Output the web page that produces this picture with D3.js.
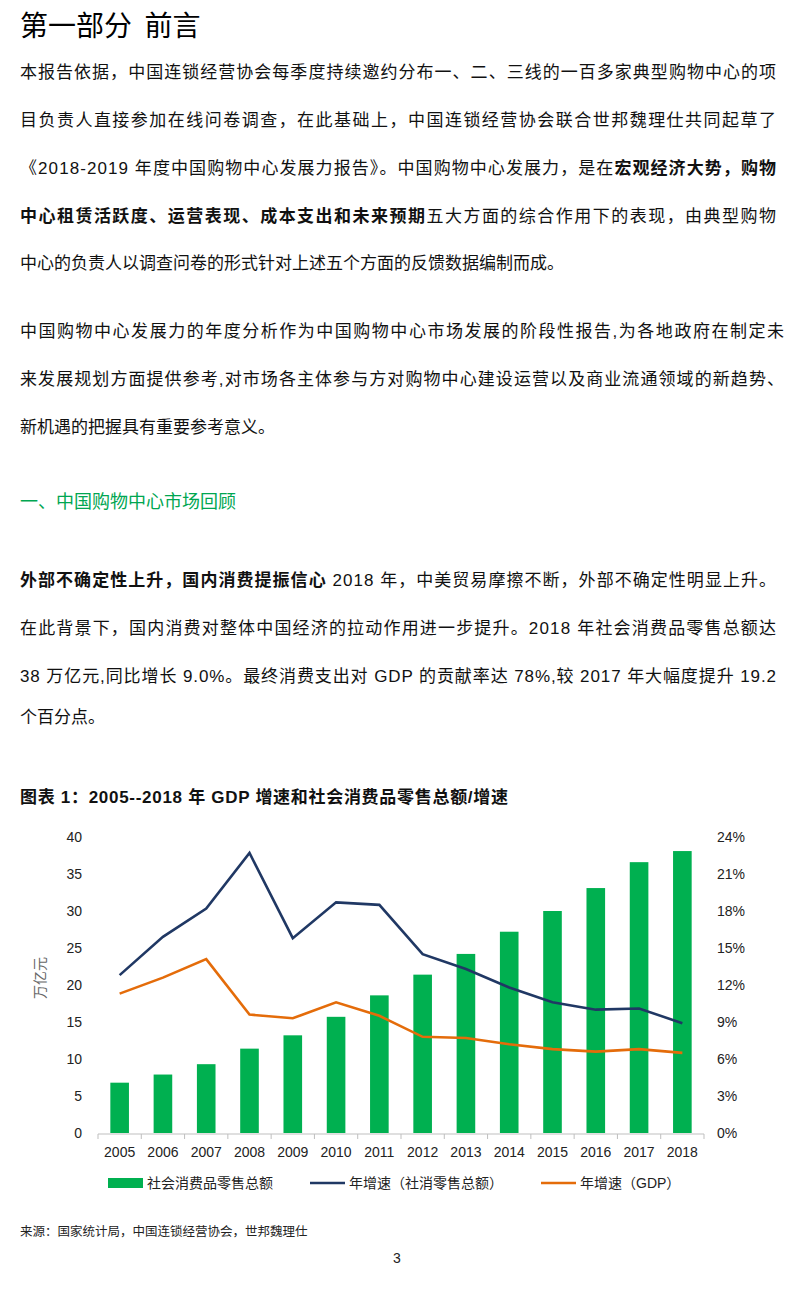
<!DOCTYPE html>
<html><head><meta charset="utf-8">
<script src="https://cdn.jsdelivr.net/npm/d3@7"></script>
<style>
body{margin:0;background:#fff;}
svg{display:block;}
</style></head>
<body>
<svg id="page" width="800" height="1291"></svg>
<script>
// ---- chart data ----
const years = ["2005","2006","2007","2008","2009","2010","2011","2012","2013","2014","2015","2016","2017","2018"];
const retailSales = [6.8,7.9,9.3,11.4,13.2,15.7,18.6,21.4,24.2,27.2,30.0,33.1,36.6,38.1];           // 万亿元
const retailGrowth = [12.8,15.9,18.2,22.7,15.8,18.7,18.5,14.5,13.3,11.8,10.6,10.0,10.1,8.9];       // %
const gdpGrowth = [11.3,12.6,14.1,9.6,9.3,10.6,9.5,7.8,7.7,7.2,6.8,6.6,6.8,6.5];                   // %
const leftTicks = [0,5,10,15,20,25,30,35,40];
const rightTicks = [0,3,6,9,12,15,18,21,24];
const seriesNames = ["社会消费品零售总额","年增速（社消零售总额）","年增速（GDP）"];

// ---- page text ----
const pageTitle = "第一部分  前言";
const para1 = [
  [["本报告依据，中国连锁经营协会每季度持续邀约分布一、二、三线的一百多家典型购物中心的项",0]],
  [["目负责人直接参加在线问卷调查，在此基础上，中国连锁经营协会联合世邦魏理仕共同起草了",0]],
  [["《2018-2019 年度中国购物中心发展力报告》。中国购物中心发展力，是在",0],["宏观经济大势，购物",1]],
  [["中心租赁活跃度、运营表现、成本支出和未来预期",1],["五大方面的综合作用下的表现，由典型购物",0]],
  [["中心的负责人以调查问卷的形式针对上述五个方面的反馈数据编制而成。",0]]
];
const para2 = [
  [["中国购物中心发展力的年度分析作为中国购物中心市场发展的阶段性报告,为各地政府在制定未",0]],
  [["来发展规划方面提供参考,对市场各主体参与方对购物中心建设运营以及商业流通领域的新趋势、",0]],
  [["新机遇的把握具有重要参考意义。",0]]
];
const heading = "一、中国购物中心市场回顾";
const para3 = [
  [["外部不确定性上升，国内消费提振信心",1],[" 2018 年，中美贸易摩擦不断，外部不确定性明显上升。",0]],
  [["在此背景下，国内消费对整体中国经济的拉动作用进一步提升。2018 年社会消费品零售总额达",0]],
  [["38 万亿元,同比增长 9.0%。最终消费支出对 GDP 的贡献率达 78%,较 2017 年大幅度提升 19.2",0]],
  [["个百分点。",0]]
];
const chartTitle = "图表 1：2005--2018 年 GDP 增速和社会消费品零售总额/增速";
const sourceText = "来源：国家统计局，中国连锁经营协会，世邦魏理仕";

const svg = d3.select("#page");
const CJK = "'Noto Sans CJK SC','Noto Sans',sans-serif";
const LAT = "'Liberation Sans',Arial,'Noto Sans CJK SC',sans-serif";

svg.append("text").attr("x",20).attr("y",36).attr("font-family",CJK)
  .attr("font-size",28).attr("fill","#000").attr("xml:space","preserve").text(pageTitle);

function fitLine(t, n, width){
  const w = t.node().getComputedTextLength();
  t.attr("letter-spacing", (width - w)/(n-1));
}
function drawPara(lines, ys, opts){
  lines.forEach((segs,i)=>{
    const t = svg.append("text").attr("x",20).attr("y",ys[i])
      .attr("font-family",LAT).attr("font-size",17).attr("fill","#111")
      .attr("xml:space","preserve");
    segs.forEach(s=>{
      t.append("tspan").attr("font-weight",s[1]?"bold":"normal").text(s[0]);
    });
    if(i < lines.length-1){
      fitLine(t, segs.map(s=>s[0]).join("").length, opts.width);
    }
  });
}
drawPara(para1,[78,126,174,222,269],{width:756});
drawPara(para2,[337,385,433],{width:764});
svg.append("text").attr("x",20).attr("y",508).attr("font-family",CJK)
  .attr("font-size",18).attr("fill","#00A651").text(heading);
drawPara(para3,[586,634,682,723],{width:756});

const ct = svg.append("text").attr("x",20).attr("y",803).attr("font-family",LAT)
  .attr("font-size",17).attr("font-weight","bold").attr("fill","#111").text(chartTitle);
fitLine(ct, chartTitle.length, 488);

// ---- chart ----
const x = d3.scaleBand().domain(years).range([98,704]).paddingInner(0.57).paddingOuter(0.285);
const yL = d3.scaleLinear().domain([0,40]).range([1133,837]);
const yR = d3.scaleLinear().domain([0,24]).range([1133,837]);

const g = svg.append("g");
// bars
g.selectAll("rect.bar").data(years).join("rect").attr("class","bar")
  .attr("x",d=>x(d)).attr("width",x.bandwidth())
  .attr("y",(d,i)=>yL(retailSales[i])).attr("height",(d,i)=>yL(0)-yL(retailSales[i]))
  .attr("fill","#00B050");

// x axis
const xAxisY = 1134;
g.append("line").attr("x1",98).attr("x2",704).attr("y1",xAxisY).attr("y2",xAxisY)
  .attr("stroke","#BFBFBF").attr("stroke-width",1);
const half = x.step()/2;
const bounds = years.map(d=>x(d)+x.bandwidth()/2-half).concat([x(years[years.length-1])+x.bandwidth()/2+half]);
g.selectAll("line.xt").data(bounds).join("line").attr("class","xt")
  .attr("x1",d=>d).attr("x2",d=>d).attr("y1",xAxisY).attr("y2",xAxisY+5)
  .attr("stroke","#BFBFBF");
g.selectAll("text.xl").data(years).join("text").attr("class","xl")
  .attr("x",d=>x(d)+x.bandwidth()/2).attr("y",1157).attr("text-anchor","middle")
  .attr("font-family",LAT).attr("font-size",14).attr("fill","#222").text(d=>d);

// left axis labels
g.selectAll("text.yl").data(leftTicks).join("text").attr("class","yl")
  .attr("x",82).attr("y",d=>yL(d)+5).attr("text-anchor","end")
  .attr("font-family",LAT).attr("font-size",14).attr("fill","#222").text(d=>d);
// right axis labels
g.selectAll("text.yr").data(rightTicks).join("text").attr("class","yr")
  .attr("x",717).attr("y",d=>yR(d)+5).attr("text-anchor","start")
  .attr("font-family",LAT).attr("font-size",14).attr("fill","#222").text(d=>d+"%");
// y title
g.append("text").attr("transform","translate(45,978) rotate(-90)").attr("text-anchor","middle")
  .attr("font-family",CJK).attr("font-size",14).attr("fill","#666").text("万亿元");

// lines
const cx = d=>x(d)+x.bandwidth()/2;
const lineGen = arr => d3.line().x((d)=>cx(d)).y((d,i)=>yR(arr[i]))(years);
g.append("path").attr("d",lineGen(retailGrowth)).attr("fill","none")
  .attr("stroke","#203864").attr("stroke-width",2.6).attr("stroke-linejoin","miter");
g.append("path").attr("d",lineGen(gdpGrowth)).attr("fill","none")
  .attr("stroke","#E46C0A").attr("stroke-width",2.6).attr("stroke-linejoin","miter");

// legend
const legendX = [108,310,541];
const legendColors = ["#00B050","#203864","#E46C0A"];
const lg = svg.append("g");
seriesNames.forEach((name,i)=>{
  if(i===0){
    lg.append("rect").attr("x",legendX[i]).attr("y",1178).attr("width",35).attr("height",10).attr("fill",legendColors[i]);
  } else {
    lg.append("line").attr("x1",legendX[i]).attr("x2",legendX[i]+35).attr("y1",1183).attr("y2",1183)
      .attr("stroke",legendColors[i]).attr("stroke-width",2.6);
  }
  lg.append("text").attr("x",legendX[i]+39).attr("y",1188).attr("font-family",LAT)
    .attr("font-size",14).attr("fill","#222").text(name);
});

// source + page number
svg.append("text").attr("x",20).attr("y",1236).attr("font-family",CJK)
  .attr("font-size",12.5).attr("fill","#222").text(sourceText);
svg.append("text").attr("x",397).attr("y",1263).attr("text-anchor","middle").attr("font-family",LAT)
  .attr("font-size",14).attr("fill","#222").text("3");
</script>
</body></html>
